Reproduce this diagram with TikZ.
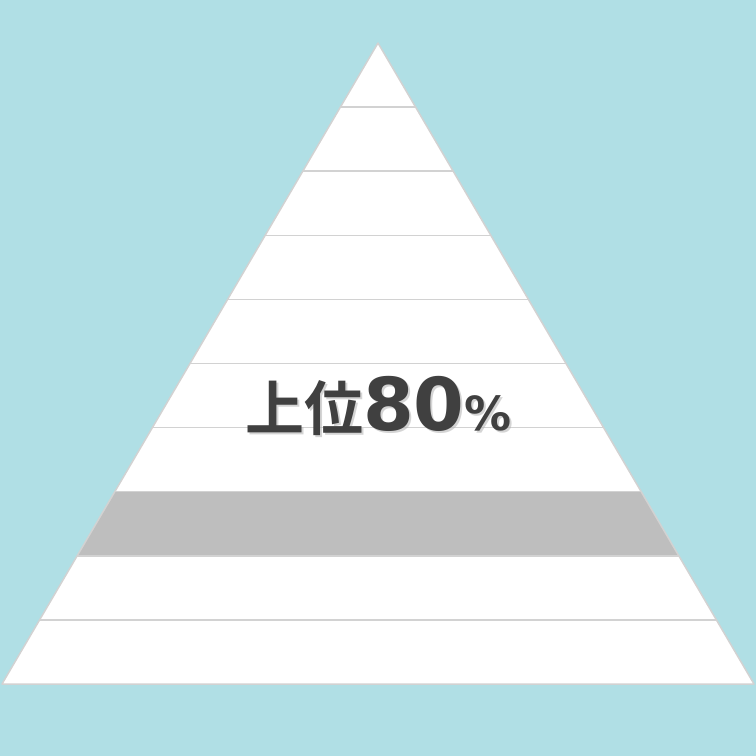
\documentclass[tikz,border=0pt]{standalone}
\usepackage{fontspec}
\newfontfamily\cjk{Noto Sans CJK JP}[BoldFont={Noto Sans CJK JP Bold}]
\newfontfamily\numfont{DejaVu Sans}
\usetikzlibrary{calc}
\definecolor{skyback}{HTML}{B0DFE5}
\definecolor{bandline}{HTML}{D2D2D2}
\definecolor{bandgray}{HTML}{BEBEBE}
\definecolor{labeltext}{HTML}{404040}
\newcommand{\ranktext}{{\cjk\bfseries\fontsize{59}{59}\selectfont 上位}{\numfont\bfseries\fontsize{73}{73}\selectfont 80}{\numfont\bfseries\fontsize{47}{47}\selectfont\%}}
\begin{document}
\begin{tikzpicture}[x=1pt, y=-1pt]
            \fill[skyback] (0,0) rectangle (756,756);
            \coordinate (apex) at (378,43);
            \coordinate (bl) at (2,684);
            \coordinate (br) at (754,684);
            \fill[white] (apex) -- (bl) -- (br) -- cycle;
            \fill[bandgray] ($(apex)!0.7!(bl)$) -- ($(apex)!0.8!(bl)$) -- ($(apex)!0.8!(br)$) -- ($(apex)!0.7!(br)$) -- cycle;
            \foreach \k in {1,...,9}
              \draw[bandline, line width=1.5pt] ($(apex)!\k/10!(bl)$) -- ($(apex)!\k/10!(br)$);
            \draw[bandline, line width=1.5pt, line join=round] (apex) -- (bl) -- (br) -- cycle;
            \node[anchor=base, text=black!30, opacity=0.55] (rankshadow) at (380.5,432.5) {\ranktext};
            \node[anchor=base, text=labeltext] (rank) at (378.5,430.5) {\ranktext};
          \end{tikzpicture}
\end{document}
